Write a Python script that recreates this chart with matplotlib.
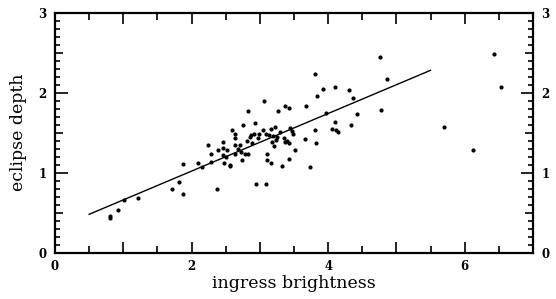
import matplotlib
matplotlib.use("Agg")
import matplotlib.pyplot as plt
from matplotlib.ticker import FixedLocator, MultipleLocator, FuncFormatter

# data
ingress_brightness = [
    0.80, 0.80, 0.93, 1.01, 1.22, 1.71, 1.81, 1.87, 1.87,
    2.10, 2.16, 2.24, 2.29, 2.28, 2.37, 2.39, 2.46, 2.46, 2.46, 2.48,
    2.52, 2.57, 2.59, 2.64, 2.64, 2.64, 2.64, 2.71, 2.74, 2.75, 2.78, 2.81,
    2.82, 2.82, 2.87, 2.88, 2.93, 2.91, 2.94, 2.97,
    3.06, 3.05, 3.09, 3.10, 3.09, 3.11, 3.16, 3.16, 3.18, 3.19, 3.22, 3.21,
    3.24, 3.27, 3.29, 3.33, 3.37, 3.37, 3.40, 3.42, 3.43, 3.43, 3.44, 3.49,
    3.51, 3.47,
    3.66, 3.67, 3.73, 3.81, 3.81, 3.82, 3.84, 3.92, 3.97, 4.05, 4.10, 4.10,
    4.15, 4.12, 4.31, 4.33, 4.36, 4.42, 4.76, 4.78, 4.86,
    5.69, 6.12, 6.43, 6.53,
    2.56, 2.73, 2.85, 2.99, 3.13, 3.25, 3.35, 2.50, 2.68,
]
eclipse_depth = [
    0.46, 0.43, 0.53, 0.66, 0.69, 0.80, 0.89, 0.74, 1.11,
    1.12, 1.07, 1.35, 1.23, 1.13, 0.80, 1.28, 1.38, 1.31, 1.22, 1.12,
    1.28, 1.08, 1.53, 1.49, 1.43, 1.35, 1.23, 1.35, 1.16, 1.60, 1.23, 1.40,
    1.77, 1.23, 1.47, 1.37, 1.62, 1.49, 0.86, 1.43,
    1.90, 1.53, 1.49, 1.23, 0.86, 1.16, 1.12, 1.55, 1.38, 1.46, 1.57, 1.33,
    1.41, 1.77, 1.51, 1.09, 1.83, 1.39, 1.40, 1.17, 1.81, 1.37, 1.56, 1.49,
    1.29, 1.52,
    1.42, 1.83, 1.07, 2.24, 1.53, 1.37, 1.96, 2.05, 1.75, 1.55, 2.07, 1.63,
    1.51, 1.53, 2.03, 1.60, 1.93, 1.74, 2.45, 1.78, 2.17,
    1.57, 1.29, 2.48, 2.07,
    1.10, 1.26, 1.45, 1.48, 1.47, 1.45, 1.43, 1.20, 1.30,
]
fit_x = [0.5, 5.5]
fit_y = [0.48, 2.28]

x_major = [0, 1, 2, 3, 4, 5, 6, 7]
x_labels = {0: "0", 2: "2", 4: "4", 6: "6"}
y_major = [0, 0.5, 1, 1.5, 2, 2.5, 3]

fig = plt.figure(figsize=(5.56, 2.99), dpi=100)
ax = fig.add_axes([0.0989, 0.1548, 0.8597, 0.8027])

ax.plot(ingress_brightness, eclipse_depth, 'o', color='black', ms=3.0, mew=0)
ax.plot(fit_x, fit_y, '-', color='black', lw=1.0)

ax.set_xlim(0, 7)
ax.set_ylim(0, 3)

for s in ax.spines.values():
    s.set_linewidth(1.6)

ax.xaxis.set_major_locator(FixedLocator(x_major))
ax.xaxis.set_minor_locator(FixedLocator([v + 0.5 for v in x_major[:-1]]))
ax.xaxis.set_major_formatter(FuncFormatter(lambda v, p: x_labels.get(int(round(v)), "") if abs(v - round(v)) < 1e-6 else ""))
ax.yaxis.set_major_locator(FixedLocator(y_major))
ax.yaxis.set_minor_locator(MultipleLocator(0.1))
ax.yaxis.set_major_formatter(FuncFormatter(lambda v, p: str(int(round(v))) if abs(v - round(v)) < 1e-6 else ""))

ax.tick_params(axis='both', which='both', direction='in', top=True, right=True,
               labelright=True, width=1.2)
ax.tick_params(axis='x', which='major', length=8, pad=5)
ax.tick_params(axis='x', which='minor', length=5)
ax.tick_params(axis='y', which='major', length=6, pad=6)
ax.tick_params(axis='y', which='minor', length=3.5)

fig.canvas.draw()
for t in ax.xaxis.get_major_ticks():
    for lab in (t.label1, t.label2):
        lab.set_fontfamily("DejaVu Serif")
        lab.set_fontweight("bold")
        lab.set_fontsize(8.5)
for t, v in zip(ax.yaxis.get_major_ticks(), y_major):
    if abs(v - round(v)) < 1e-6:
        t.tick1line.set_markersize(9)
        t.tick2line.set_markersize(9)
    for lab in (t.label1, t.label2):
        lab.set_fontfamily("DejaVu Serif")
        lab.set_fontweight("bold")
        lab.set_fontsize(8.5)

ax.set_xlabel("ingress brightness", fontfamily="DejaVu Serif", fontsize=12.5, labelpad=2)
ax.set_ylabel("eclipse depth", fontfamily="DejaVu Serif", fontsize=12.5, labelpad=8)

fig.savefig("out.png", dpi=100)
